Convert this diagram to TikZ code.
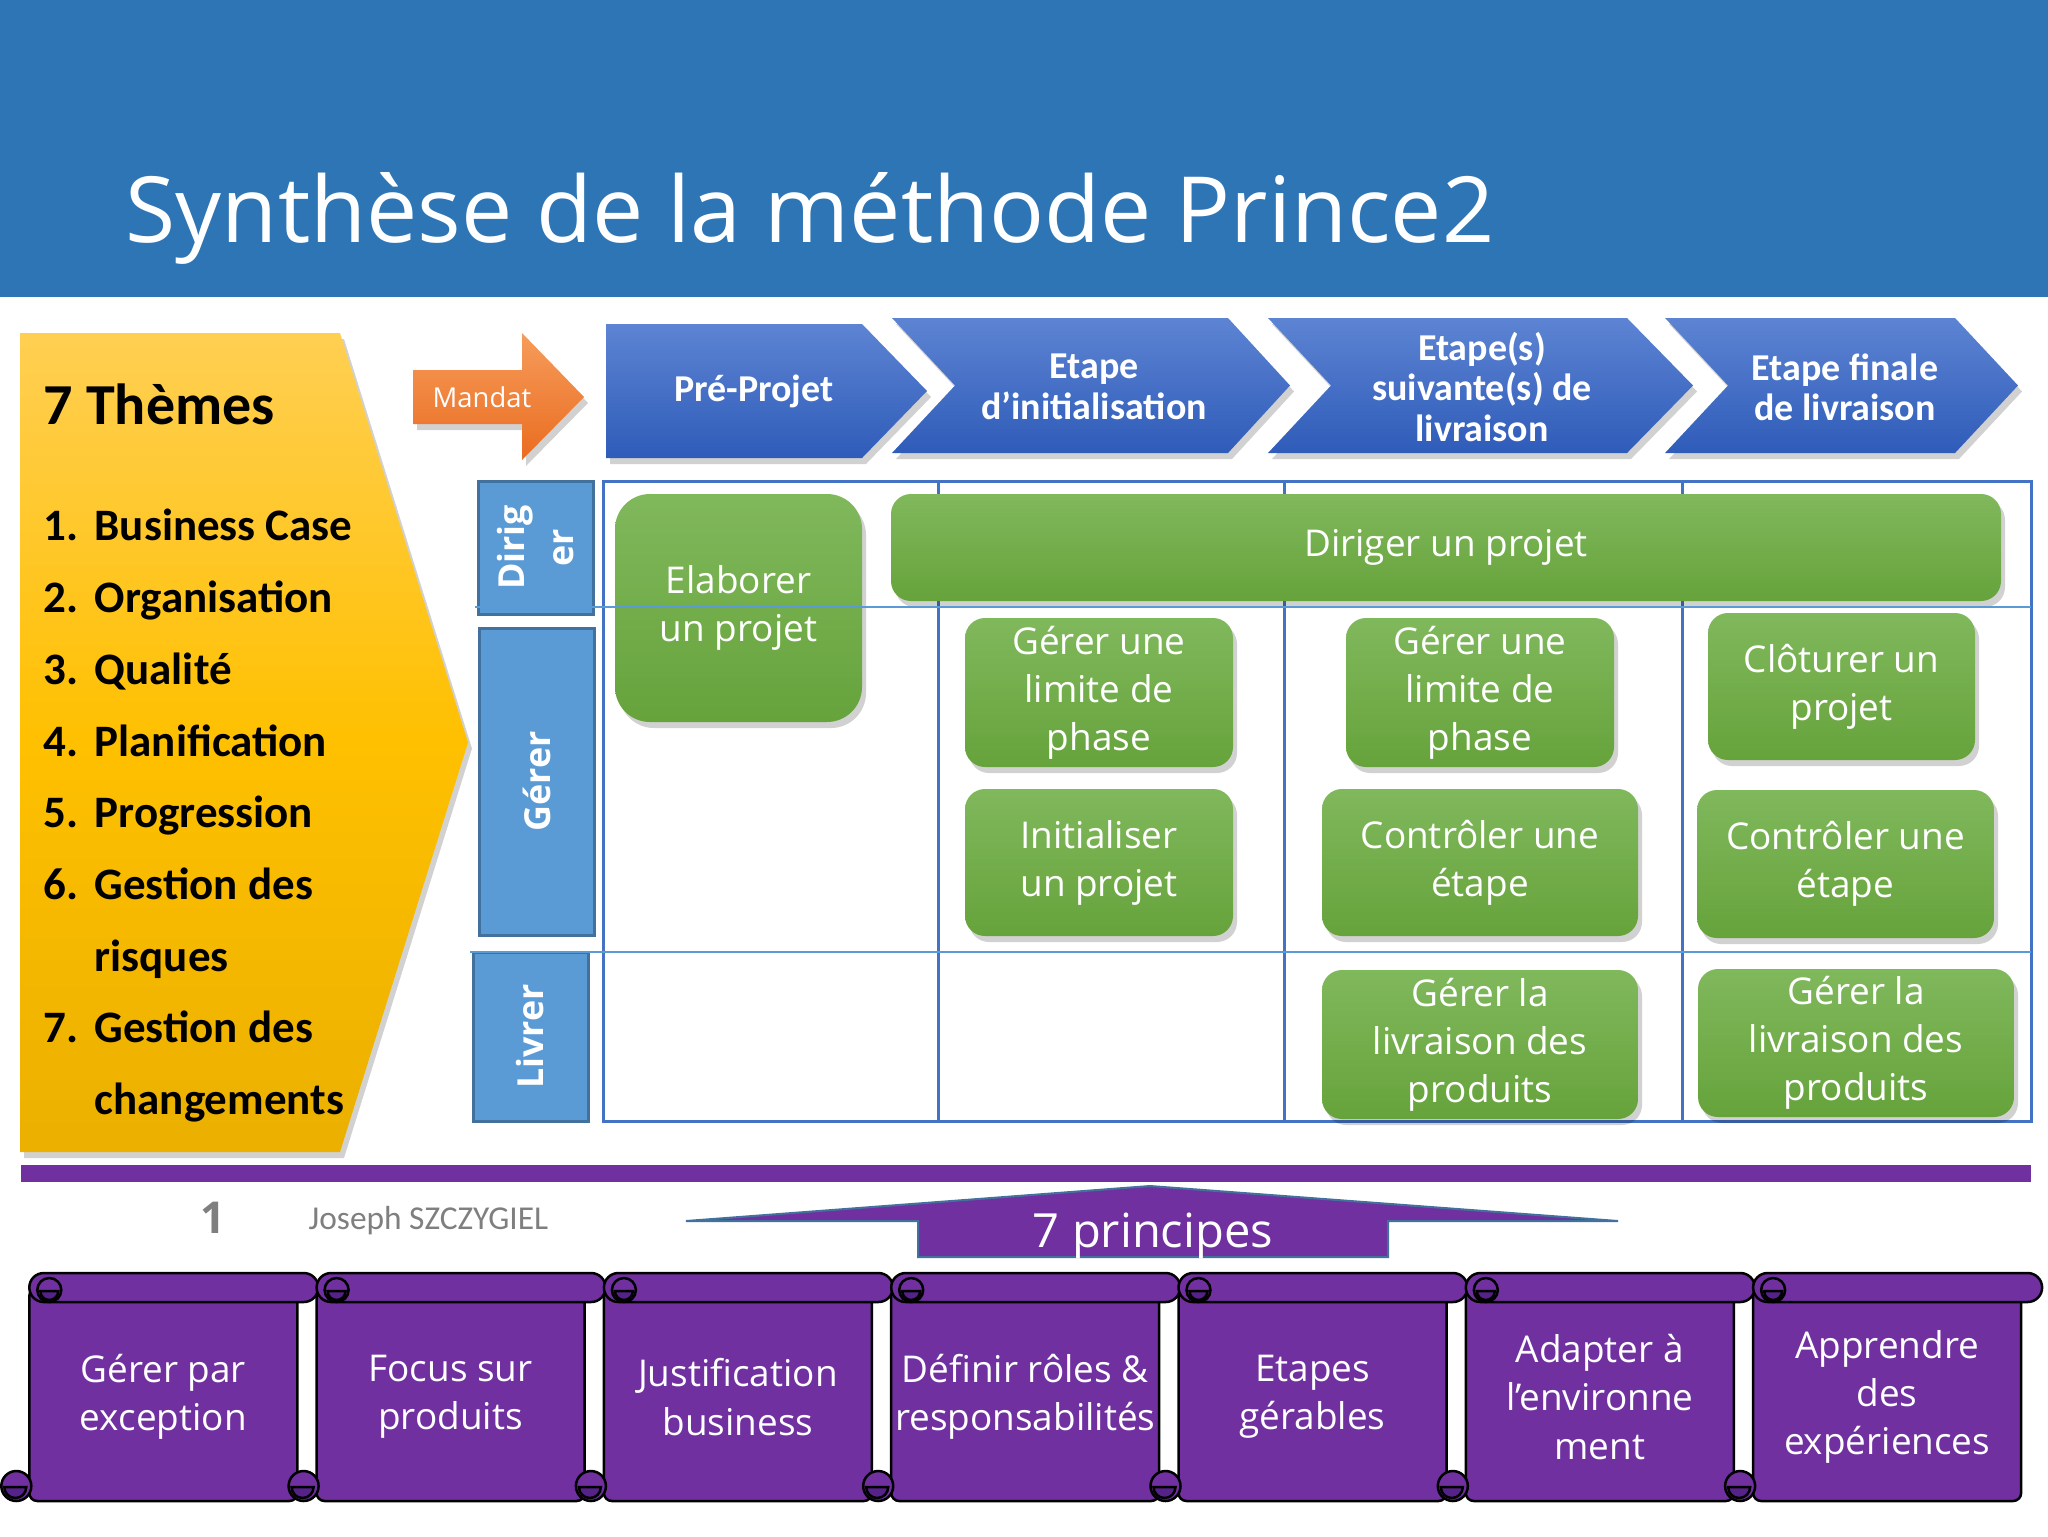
\documentclass[tikz,border=0pt]{standalone}
\usepackage{fontspec}
\setmainfont{Open Sans}
\newfontfamily\hdfont{Carlito}
\usepackage{tikz}
\usetikzlibrary{shadows}
\definecolor{titleblue}{HTML}{2E75B6}
\definecolor{yeltop}{HTML}{FFCF52}
\definecolor{yelmid}{HTML}{FFC000}
\definecolor{yelbot}{HTML}{EBB000}
\definecolor{ortop}{HTML}{F69C5B}
\definecolor{orbot}{HTML}{EA6C20}
\definecolor{chtop}{HTML}{5D84D3}
\definecolor{chbot}{HTML}{2F5CB9}
\definecolor{grtop}{HTML}{80B85C}
\definecolor{grbot}{HTML}{66A33B}
\definecolor{lblue}{HTML}{5B9BD5}
\definecolor{lbluedk}{HTML}{41719C}
\definecolor{gridblue}{HTML}{4472C4}
\definecolor{purp}{HTML}{7030A0}
\definecolor{scrdark}{HTML}{55228A}
\definecolor{greytxt}{HTML}{7F7F7F}
\def\ChT{31.8}
\def\ChB{45.3}
\def\ChM{38.55}
\tikzset{
  softshadow/.style={drop shadow={shadow xshift=0.4mm, shadow yshift=-0.6mm, opacity=0.18, fill=black}},
  theme/.style={top color=yeltop, bottom color=yelbot, middle color=yelmid, softshadow},
  mandat/.style={top color=ortop, bottom color=orbot, softshadow},
  chev/.style={top color=chtop, bottom color=chbot, softshadow},
  chevtxt/.style={
    text=white, align=center, inner sep=0pt,
    font=\hdfont\bfseries\fontsize{10.8}{11.5}\selectfont,
  },
  proc/.style={
    top color=grtop, bottom color=grbot, rounded corners=2mm, softshadow,
    text=white, align=center, inner sep=0pt,
    font=\fontsize{10.5}{13.6}\selectfont,
  },
  rowlbl/.style={
    fill=lblue, draw=lbluedk, line width=0.3mm, rotate=90,
    text=white, align=center, inner sep=0pt,
    font=\bfseries\fontsize{10.2}{13.7}\selectfont,
  },
  gridv/.style={draw=gridblue, line width=0.3mm},
  gridh/.style={draw=lblue, line width=0.15mm},
  scrl/.style={fill=purp, draw=black, line width=0.25mm},
  prtext/.style={
    text=white, align=center, inner sep=0pt,
    font=\fontsize{10.5}{13.7}\selectfont,
  },
  prscroll/.pic={
    \filldraw[scrl, rounded corners=0.8mm] (0,1.5) rectangle (26.8,22.8);
    \filldraw[scrl, rounded corners=1.45mm] (0,0) rectangle (28.9,2.9);
    \filldraw[scrl] (2.0,1.7) circle (1.2);
    \filldraw[scrl, fill=scrdark] (1.1,1.8) arc[start angle=180, end angle=0, radius=0.9] -- cycle;
    \filldraw[scrl] (-1.3,21.3) circle (1.5);
    \filldraw[scrl, fill=scrdark] (-2.5,21.4) arc[start angle=180, end angle=0, radius=1.1] -- cycle;
  },
}

\begin{document}
\begin{tikzpicture}[x=1mm,y=-1mm]
  \useasboundingbox (0,0) rectangle (204.8,153.6);
  \fill[white] (0,0) rectangle (204.8,153.6);

  % title band
  \fill[titleblue] (0,0) rectangle (204.8,29.7);
  \node[anchor=base west, inner sep=0pt, text=white, font=\fontsize{26}{30}\selectfont] (title) at (12.5,24.2) {Synthèse de la méthode Prince2};

  % themes
  \shade[theme] (2.0,33.3) -- (34.0,33.3) -- (46.8,74.25) -- (34.0,115.2) -- (2.0,115.2) -- cycle;
  \node[anchor=base west, inner sep=0pt, font=\hdfont\bfseries\fontsize{16.5}{19}\selectfont] (thhead) at (4.3,42.4) {7 Thèmes};
  \node[anchor=north west, inner sep=0pt, font=\hdfont\bfseries\fontsize{12.8}{20.4}\selectfont] (thlist) at (4.3,49.0) {%
    \begin{tabular}{@{}p{5.1mm}@{}l@{}}
      1. & Business Case\\
      2. & Organisation\\
      3. & Qualité\\
      4. & Planification\\
      5. & Progression\\
      6. & Gestion des\\
         & risques\\
      7. & Gestion des\\
         & changements
    \end{tabular}};

  % mandat + stages
  \shade[mandat] (41.3,37.0) -- (52.2,37.0) -- (52.2,33.3) -- (58.4,39.7) -- (52.2,46.0) -- (52.2,42.4) -- (41.3,42.4) -- cycle;
  \node[text=white, inner sep=0pt, font=\fontsize{7.8}{9}\selectfont] (mandatlbl) at (48.2,39.7) {Mandat};

  \shade[chev] (60.6,32.4) -- (86.2,32.4) -- (92.7,39.1) -- (86.2,45.8) -- (60.6,45.8) -- cycle;
  \shade[chev] (89.2,\ChT) -- (122.8,\ChT) -- (129.0,\ChM) -- (122.8,\ChB) -- (89.2,\ChB) -- (95.5,\ChM) -- cycle;
  \shade[chev] (126.8,\ChT) -- (162.7,\ChT) -- (169.3,\ChM) -- (162.7,\ChB) -- (126.8,\ChB) -- (133.1,\ChM) -- cycle;
  \shade[chev] (166.5,\ChT) -- (195.5,\ChT) -- (201.8,\ChM) -- (195.5,\ChB) -- (166.5,\ChB) -- (172.8,\ChM) -- cycle;
  \node[chevtxt] (pre) at (75.4,39.1) {Pré-Projet};
  \node[chevtxt] (init) at (109.4,38.7) {Etape\\d’initialisation};
  \node[chevtxt] (suiv) at (148.2,38.7) {Etape(s)\\suivante(s) de\\livraison};
  \node[chevtxt] (fin) at (184.5,38.7) {Etape finale\\de livraison};

  % grid
  \draw[gridv] (60.3,48.1) rectangle (203.1,112.1);
  \foreach \x in {93.8,128.4,168.2}
    \draw[gridv] (\x,48.1) -- (\x,112.1);

  \node[rowlbl, minimum width=13.3mm, minimum height=11.5mm] (rdir) at (53.55,54.75) {Dirig\\er};
  \node[rowlbl, minimum width=30.7mm, minimum height=11.5mm] (rger) at (53.65,78.15) {Gérer};
  \node[rowlbl, minimum width=16.9mm, minimum height=11.5mm] (rliv) at (53.05,103.65) {Livrer};

  % processes
  \node[proc, rounded corners=3.5mm, minimum width=24.7mm, minimum height=22.8mm] (elab) at (73.85,60.8) {Elaborer\\un projet};
  \node[proc, minimum width=111mm, minimum height=10.7mm] (dirp) at (144.6,54.75) {Diriger un projet};
  \node[proc, minimum width=26.8mm, minimum height=14.9mm] (glp1) at (109.9,69.25) {Gérer une\\limite de\\phase};
  \node[proc, minimum width=26.8mm, minimum height=14.7mm] (inip) at (109.9,86.25) {Initialiser\\un projet};
  \node[proc, minimum width=26.8mm, minimum height=14.9mm] (glp2) at (148.0,69.25) {Gérer une\\limite de\\phase};
  \node[proc, minimum width=31.6mm, minimum height=14.7mm] (ctl1) at (148.0,86.25) {Contrôler une\\étape};
  \node[proc, minimum width=31.6mm, minimum height=14.9mm] (liv1) at (148.0,104.45) {Gérer la\\livraison des\\produits};
  \node[proc, minimum width=26.7mm, minimum height=14.7mm] (clop) at (184.15,68.65) {Clôturer un\\projet};
  \node[proc, minimum width=29.7mm, minimum height=14.8mm] (ctl2) at (184.55,86.4) {Contrôler une\\étape};
  \node[proc, minimum width=31.6mm, minimum height=14.8mm] (liv2) at (185.6,104.3) {Gérer la\\livraison des\\produits};

  \draw[gridh] (47.5,60.7) -- (203.1,60.7);
  \draw[gridh] (47.0,95.2) -- (203.1,95.2);

  % footer
  \fill[purp] (2.1,116.5) rectangle (203.1,118.2);
  \node[text=greytxt, inner sep=0pt, font=\bfseries\fontsize{12.5}{14}\selectfont] (pagenum) at (21.3,121.8) {1};
  \node[anchor=west, inner sep=0pt, text=greytxt, font=\hdfont\fontsize{9.5}{11}\selectfont] (author) at (30.8,122.1) {Joseph SZCZYGIEL};

  % principles
  \filldraw[fill=purp, draw=lbluedk, line width=0.2mm] (68.6,122.1) -- (115.0,118.6) -- (161.8,122.1) -- (138.8,122.1) -- (138.8,125.7) -- (91.8,125.7) -- (91.8,122.1) -- cycle;
  \node[text=white, inner sep=0pt, font=\fontsize{13.4}{15}\selectfont] (princ) at (115.3,123.6) {7 principes};

  \foreach \ptxt [count=\i from 0] in {{Gérer par\\exception},{Focus sur\\produits},{Justification\\business},{Définir rôles \&\\responsabilités},{Etapes\\gérables},{Adapter à\\l’environne\\ment},{Apprendre\\des\\expériences}} {
    \pic at ({2.93+28.73*\i},127.3) {prscroll};
    \node[prtext] (pr\i) at ({2.93+28.73*\i+13.4},139.7) {\ptxt};
  }
\end{tikzpicture}
\end{document}
